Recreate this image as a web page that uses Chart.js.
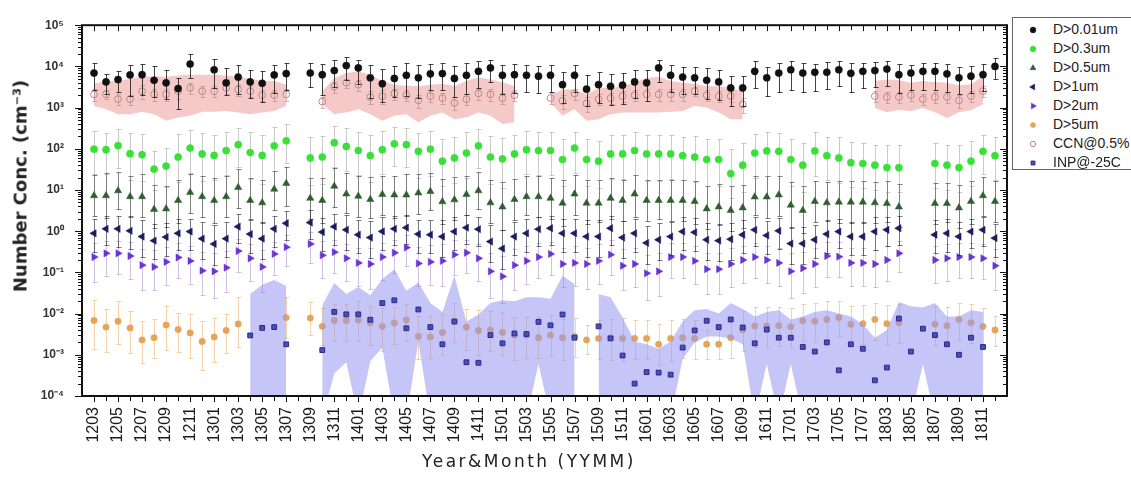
<!DOCTYPE html>
<html>
<head>
<meta charset="utf-8">
<script src="https://cdn.jsdelivr.net/npm/chart.js@4.4.1/dist/chart.umd.min.js"></script>
<style>
  html, body { margin: 0; padding: 0; background: #fff; overflow: hidden; }
  #wrap { position: relative; width: 1131px; height: 477px; }
  #chart { position: absolute; left: 0; top: 0; }
  #ytitle { position: absolute; left: 20px; top: 186px; transform: translate(-50%, -50%) rotate(-90deg);
    white-space: nowrap; font: bold 18px "DejaVu Sans", sans-serif; color: #222; }
  #xtitle { position: absolute; left: 329px; width: 400px; top: 453px; text-align: center;
    white-space: nowrap; font: 17px/17px "DejaVu Sans", sans-serif; letter-spacing: 2.5px; color: #222; }
  #legend { position: absolute; left: 1012px; top: 17px; width: 130px; height: 153px;
    border: 1px solid #666; box-sizing: border-box; background: #fff;
    font: 14px "Liberation Sans", Arial, sans-serif; color: #222; }
  #legend .row { position: absolute; left: 0; width: 130px; height: 18px; }
  #legend .row canvas { position: absolute; left: 12px; top: 1px; }
  #legend .row span { position: absolute; left: 40px; top: 0; line-height: 17px; white-space: nowrap; }
</style>
</head>
<body>
<div id="wrap">
  <canvas id="chart" width="1131" height="477"></canvas>
  <div id="ytitle">Number Conc. (cm⁻³)</div>
  <div id="xtitle">Year&amp;Month (YYMM)</div>
  <div id="legend"></div>
</div>
<script>
// months on the x axis (1708-1801 not in the record)
const categories = [
  "1203","1204","1205","1206","1207","1208","1209","1210","1211","1212",
  "1301","1302","1303","1304","1305","1306","1307","1308","1309","1310","1311","1312",
  "1401","1402","1403","1404","1405","1406","1407","1408","1409","1410","1411","1412",
  "1501","1502","1503","1504","1505","1506","1507","1508","1509","1510","1511","1512",
  "1601","1602","1603","1604","1605","1606","1607","1608","1609","1610","1611","1612",
  "1701","1702","1703","1704","1705","1706","1707",
  "1802","1803","1804","1805","1806","1807","1808","1809","1810","1811","1812"
];

// number concentrations (cm^-3)
const d001 = [
  6900,4200,4800,6200,6300,4600,4000,2900,11400,null,
  8300,4000,5500,4200,3900,6200,6700,null,6900,6300,7900,10500,
  9200,5300,3800,5100,6100,5300,6600,6700,5100,6100,7600,9200,
  6100,6300,6100,5800,6100,3600,6100,2800,3600,3300,3500,4200,
  4000,9200,6100,5500,5300,4600,4200,3000,3000,7600,5300,6900,
  8300,6900,7200,7200,8300,6800,7600,
  7900,8600,6300,6900,7600,7600,6600,5300,5800,6300,10000
];
const d03 = [
  98,95,120,76,72,32,38,63,104,75,
  69,91,126,81,69,118,157,null,60,63,141,114,
  91,68,95,132,126,87,98,50,60,79,118,63,
  57,75,95,91,91,55,104,55,50,75,75,91,
  75,75,75,68,63,55,55,25,40,79,89,87,
  55,40,89,68,60,46,44,
  40,35,35,null,null,44,40,35,50,87,68
];
const d05 = [
  7.3,7.3,9.6,6.9,6.9,3.4,3.5,5.6,8.7,6.9,
  5.6,6.9,11.5,5.6,4.9,10.5,14.5,null,6.3,5.6,12.4,8.0,
  7.1,5.9,7.8,7.6,7.6,8.5,9.2,5.2,5.8,7.8,9.6,4.9,
  3.9,5.9,6.9,6.9,6.3,4.8,8.0,4.8,4.8,6.3,5.6,8.0,
  5.6,5.6,5.6,5.6,5.3,3.5,3.9,3.2,3.7,6.8,6.8,7.6,
  4.3,3.2,5.3,4.9,5.1,5.1,5.1,
  4.9,4.7,3.9,null,null,4.7,4.7,3.7,5.3,7.3,5.3
];
const d1 = [
  0.89,1.14,1.14,1.02,0.74,0.59,0.72,0.89,0.98,0.66,
  0.49,0.66,1.29,0.85,0.66,1.14,1.56,null,1.62,0.95,1.29,1.08,
  0.82,0.70,0.99,1.14,1.22,0.85,0.82,0.74,0.98,1.22,1.12,0.56,
  0.38,0.74,0.89,1.12,1.18,0.89,0.89,0.74,0.74,1.18,0.70,0.89,
  0.52,0.62,0.74,0.98,0.94,0.62,0.59,0.64,0.82,1.08,0.79,1.02,
  0.50,0.50,0.62,0.85,0.98,0.74,0.74,
  0.98,1.08,1.18,null,null,0.82,0.89,0.74,0.98,1.08,0.68
];
const d2 = [
  0.236,0.29,0.29,0.25,0.15,0.136,0.18,0.23,0.19,0.11,
  0.106,0.13,0.33,0.22,0.136,0.28,0.41,null,0.49,0.26,0.31,0.22,
  0.17,0.16,0.236,0.30,0.40,0.165,0.18,0.19,0.27,0.30,0.22,0.106,
  0.08,0.15,0.19,0.236,0.28,0.16,0.17,0.16,0.19,0.27,0.145,0.16,
  0.095,0.106,0.236,0.236,0.19,0.12,0.12,0.16,0.20,0.236,0.20,0.17,
  0.106,0.126,0.16,0.25,0.24,0.17,0.17,
  0.16,0.20,0.29,null,null,0.20,0.22,0.236,0.236,0.22,0.145
];
const d5 = [
  6.8e-3,4.7e-3,6.5e-3,4.5e-3,2.3e-3,2.6e-3,5.3e-3,4.1e-3,3.4e-3,2.1e-3,
  2.7e-3,3.9e-3,5.6e-3,null,null,null,8.0e-3,null,7.8e-3,4.9e-3,6.8e-3,6.8e-3,
  7.0e-3,6.0e-3,4.9e-3,5.9e-3,7.0e-3,2.8e-3,2.7e-3,3.5e-3,6.5e-3,4.7e-3,3.9e-3,4.0e-3,
  3.5e-3,3.0e-3,3.0e-3,2.6e-3,3.0e-3,2.6e-3,2.8e-3,2.3e-3,2.5e-3,2.6e-3,2.5e-3,2.5e-3,
  2.5e-3,1.8e-3,2.5e-3,2.6e-3,2.5e-3,1.8e-3,1.8e-3,2.6e-3,4.0e-3,5.0e-3,5.0e-3,5.1e-3,
  4.8e-3,6.7e-3,6.5e-3,7.2e-3,8.0e-3,5.5e-3,5.7e-3,
  7.2e-3,5.7e-3,6.0e-3,null,null,5.5e-3,5.1e-3,7.2e-3,6.0e-3,4.9e-3,4.0e-3
];
const ccn = [
  2100,2100,1600,1600,2500,2100,2100,2500,3000,2500,
  2500,3000,2750,2500,2000,2000,2100,null,null,1400,3200,4000,
  3600,1800,1900,2200,2000,1500,1900,1700,1300,1600,2200,2100,
  1700,2000,null,null,1700,1450,2200,1260,1600,1700,1900,2000,
  2100,2100,2100,2100,2500,2000,1900,1900,1200,null,null,null,
  null,null,null,null,null,null,null,
  1900,1800,1800,2000,1600,1800,1800,1500,1900,2500,null
];
const inp = [
  null,null,null,null,null,null,null,null,null,null,
  null,null,null,2.95e-3,4.5e-3,4.7e-3,1.8e-3,null,null,1.3e-3,1.1e-2,9.6e-3,
  9.6e-3,7.1e-3,1.8e-2,2.1e-2,4.4e-3,1.26e-2,4.7e-3,1.8e-3,6.4e-3,6.6e-4,6.4e-4,3.0e-3,
  1.9e-3,3.3e-3,3.2e-3,6.3e-3,5.2e-3,9.5e-3,2.6e-3,null,4.9e-3,2.5e-3,9.6e-4,2.0e-4,
  3.8e-4,3.7e-4,3.3e-4,1.5e-3,3.9e-3,6.7e-3,4.7e-3,7.2e-3,4.6e-3,1.9e-3,4.1e-3,2.6e-3,
  2.6e-3,1.55e-3,1.2e-3,2.0e-3,4.2e-4,1.8e-3,1.4e-3,
  2.4e-4,4.9e-4,7.6e-3,1.2e-3,4.3e-3,3.0e-3,1.8e-3,1.0e-3,2.6e-3,1.55e-3,null
];

// shaded ranges (upper / lower edge); 3e-5 = runs below the axis
const ccnMax = [
  3800,4400,4400,5000,5600,5800,5600,6000,6300,6300,
  6300,6000,5600,5000,4400,4400,3600,null,null,2500,5200,6900,
  7600,6300,4400,3600,3400,3300,3600,3800,3300,4400,5400,4800,
  4100,3300,null,null,2000,2750,2750,2100,3000,3000,3300,4100,
  5200,5600,4400,4000,3800,3300,3300,3000,2500,null,null,null,
  null,null,null,null,null,null,null,
  4400,4800,4600,4000,4400,4200,4000,3500,3700,5800,null
];
const ccnMin = [
  1100,910,690,690,790,690,480,575,630,790,
  790,830,760,690,760,830,1100,null,null,1200,690,760,
  910,690,480,630,690,440,630,760,525,575,760,630,
  400,440,null,null,1300,630,910,480,525,690,760,760,
  760,760,790,830,1100,1000,760,525,525,null,null,null,
  null,null,null,null,null,null,null,
  980,770,880,830,980,770,560,770,860,1200,null
];
const inpMax = [
  null,null,null,null,null,null,null,null,null,null,
  null,null,null,3e-2,5e-2,6.5e-2,4.7e-2,null,null,1.6e-2,5.5e-2,3e-2,
  4.4e-2,2.8e-2,6.9e-2,0.12,3.6e-2,5.7e-2,1.8e-2,1.1e-2,8.3e-2,6.4e-3,9.5e-3,1.8e-2,
  2.1e-2,2e-2,2.5e-2,2.5e-2,2.3e-2,8.3e-2,5.2e-2,null,3e-2,2.5e-2,8e-3,2.1e-3,
  1.8e-3,1.4e-3,2.1e-3,6.4e-3,1.2e-2,1.3e-2,1e-2,1.8e-2,1.3e-2,8.5e-3,1.1e-2,1.2e-2,
  7.2e-3,8.5e-3,1.1e-2,1.2e-2,1e-2,8.5e-3,5.5e-3,
  2.6e-3,4e-3,1.9e-2,1.5e-2,1.4e-2,1.8e-2,8.5e-3,8.5e-3,1.2e-2,1.1e-2,null
];
const inpMin = [
  null,null,null,null,null,null,null,null,null,null,
  null,null,null,3e-5,3e-5,3e-5,3e-5,null,null,3e-5,3.5e-4,6.6e-4,
  3e-5,7e-4,1.5e-3,3e-5,3e-5,2.1e-3,3e-5,3e-5,3e-5,3e-5,3e-5,3e-5,
  3e-5,3e-5,3e-5,6e-4,3e-5,3e-5,3e-5,null,3e-5,3e-5,3e-5,3e-5,
  3e-5,3e-5,3e-5,8e-4,2e-3,2.8e-3,2.8e-3,2.5e-3,1.8e-3,3e-5,6e-4,3e-5,
  6e-4,3e-5,3e-5,3e-5,3e-5,3e-5,3e-5,
  3e-5,3e-5,3e-5,3e-5,6e-4,3e-5,3e-5,3e-5,3e-5,3e-5,null
];

// error bar lengths in decades (up / down)
const d001Up = [
  .25,.2,.2,.25,.25,.35,.3,.25,.25,0,
  .25,.35,.3,.3,.3,.25,.25,0,.25,.25,.25,.2,
  .2,.3,.35,.3,.3,.3,.25,.25,.3,.3,.25,.2,
  .25,.25,.25,.25,.25,.3,.25,.35,.3,.3,.3,.3,
  .3,.2,.25,.25,.25,.3,.3,.3,.3,.25,.25,.25,
  .2,.25,.2,.25,.2,.25,.2,
  .2,.2,.25,.2,.2,.2,.25,.25,.25,.25,.2
];
const d001Dn = [
  .4,.3,.3,.5,.5,.4,.4,.5,.35,0,
  .45,.3,.4,.4,.45,.45,.4,0,.35,.5,.4,.35,
  .4,.5,.45,.45,.5,.5,.4,.4,.45,.45,.4,.35,
  .45,.45,.4,.4,.4,.45,.4,.4,.45,.45,.45,.4,
  .45,.35,.4,.4,.4,.45,.45,.45,.45,.4,.45,.45,
  .5,.45,.45,.4,.4,.45,.4,
  .4,.4,.45,.4,.45,.45,.45,.4,.4,.4,.3
];
const d03Up = [
  .45,.4,.4,.5,.5,.45,.45,.55,.45,.5,
  .5,.45,.4,.5,.5,.45,.4,0,.5,.5,.4,.45,
  .45,.5,.45,.4,.4,.45,.45,.55,.5,.5,.4,.5,
  .5,.45,.45,.45,.45,.5,.4,.5,.5,.45,.45,.45,
  .45,.45,.45,.45,.5,.5,.5,.6,.55,.45,.45,.45,
  .5,.55,.45,.45,.5,.5,.5,
  .5,.55,.55,0,0,.5,.5,.55,.5,.4,.45
];
const d03Dn = [
  .6,.6,.55,.65,.65,.5,.5,.6,.6,.65,
  .6,.6,.55,.65,.7,.6,.55,0,.65,.65,.6,.6,
  .6,.65,.6,.55,.55,.65,.65,.6,.6,.6,.55,.65,
  .7,.6,.6,.6,.6,.65,.6,.65,.65,.6,.6,.6,
  .65,.65,.6,.6,.6,.65,.65,.6,.65,.6,.6,.6,
  .65,.65,.6,.6,.6,.6,.6,
  .6,.6,.6,0,0,.6,.6,.6,.6,.55,.6
];
const d05Up = [
  .5,.55,.45,.5,.55,.6,.55,.5,.45,.5,
  .55,.5,.45,.55,.55,.45,.4,0,.5,.55,.45,.5,
  .5,.55,.45,.45,.5,.45,.45,.55,.55,.45,.45,.55,
  .6,.5,.5,.5,.5,.55,.45,.55,.55,.5,.5,.45,
  .5,.5,.5,.5,.5,.55,.55,.6,.55,.5,.5,.45,
  .55,.6,.5,.5,.5,.5,.5,
  .5,.55,.55,0,0,.5,.5,.55,.5,.45,.5
];
const d05Dn = [
  .5,.55,.45,.5,.5,.45,.45,.55,.5,.5,
  .55,.5,.5,.45,.5,.5,.55,0,.5,.55,.5,.45,
  .5,.45,.5,.55,.5,.5,.45,.55,.5,.5,.45,.5,
  .55,.5,.45,.5,.5,.55,.5,.5,.45,.5,.5,.55,
  .5,.45,.5,.5,.55,.5,.45,.5,.5,.45,.5,.5,
  .55,.55,.5,.45,.5,.5,.5,
  .5,.45,.5,0,0,.5,.45,.5,.55,.5,.5
];
const d1Up = [
  .35,.3,.3,.35,.4,.4,.35,.35,.3,.4,
  .45,.4,.3,.35,.4,.3,.3,0,.3,.35,.3,.35,
  .35,.4,.35,.3,.3,.35,.35,.4,.35,.3,.3,.4,
  .45,.35,.35,.3,.3,.35,.35,.4,.4,.3,.4,.35,
  .4,.4,.35,.35,.35,.4,.4,.4,.35,.3,.35,.3,
  .4,.4,.35,.35,.3,.35,.35,
  .35,.3,.3,0,0,.35,.35,.35,.3,.3,.35
];
const d1Dn = [
  .45,.4,.45,.45,.5,.45,.45,.4,.45,.5,
  .5,.45,.4,.45,.5,.45,.4,0,.4,.45,.45,.5,
  .45,.5,.45,.4,.4,.45,.45,.5,.45,.4,.4,.5,
  .5,.45,.45,.4,.4,.45,.45,.5,.5,.4,.5,.45,
  .5,.5,.45,.45,.45,.5,.5,.5,.45,.4,.45,.45,
  .5,.5,.45,.45,.4,.45,.45,
  .45,.4,.4,0,0,.45,.45,.45,.4,.4,.45
];
const d2Up = [
  .35,.3,.3,.35,.4,.4,.35,.35,.35,.45,
  .45,.4,.3,.35,.4,.3,.3,0,.3,.35,.3,.35,
  .35,.4,.35,.3,.3,.4,.4,.4,.35,.3,.35,.45,
  .5,.4,.35,.35,.3,.4,.4,.4,.4,.35,.4,.4,
  .45,.45,.35,.35,.35,.4,.4,.4,.35,.35,.35,.35,
  .45,.4,.4,.35,.35,.35,.35,
  .35,.35,.3,0,0,.35,.35,.35,.35,.35,.4
];
const d2Dn = [
  .6,.55,.5,.55,.6,.55,.55,.5,.55,.6,
  .65,.6,.5,.55,.6,.5,.45,0,.45,.55,.5,.55,
  .55,.6,.55,.5,.45,.55,.55,.6,.5,.5,.55,.65,
  .65,.6,.55,.5,.5,.55,.55,.6,.55,.5,.6,.55,
  .65,.6,.5,.5,.55,.6,.6,.55,.55,.5,.55,.55,
  .65,.6,.55,.5,.5,.55,.55,
  .55,.5,.45,0,0,.55,.55,.5,.5,.5,.6
];
const d5Up = [
  .5,.45,.5,.4,.45,.45,.45,.4,.45,.5,
  .45,.4,.65,0,0,0,.5,0,.4,.45,.4,.4,
  .45,.4,.45,.4,.4,.5,.5,.45,.45,.45,.5,.45,
  .5,.45,.45,.5,.5,.45,.45,.35,.45,.45,.5,.45,
  .45,.5,.45,.45,.45,.35,.35,.45,.45,.45,.45,.45,
  .45,.4,.45,.45,.4,.45,.45,
  .4,.45,.45,0,0,.45,.45,.4,.45,.45,.35
];
const d5Dn = [
  .7,.6,.55,.6,.55,.5,.6,.55,.6,.7,
  .6,.55,.55,0,0,0,.5,0,.4,.45,.5,.5,
  .5,.55,.6,.5,.5,.55,.5,.55,.5,.55,.6,.5,
  .55,.6,.55,.5,.5,.55,.5,.35,.5,.55,.55,.5,
  .5,.5,.55,.5,.5,.35,.35,.5,.5,.5,.5,.5,
  .5,.5,.5,.5,.45,.5,.5,
  .5,.5,.5,0,0,.5,.5,.5,.5,.5,.4
];
const ccnUp = [
  .12,.1,.12,.1,.14,.12,.12,.15,.12,.12,
  .12,.12,.12,.12,.12,.12,.12,0,0,.12,.12,.1,
  .12,.14,.14,.1,.12,.14,.12,.12,.14,.12,.12,.12,
  .12,.12,0,0,.12,.15,.12,.15,.12,.12,.12,.12,
  .12,.12,.12,.12,.1,.12,.12,.12,.15,0,0,0,
  0,0,0,0,0,0,0,
  .12,.12,.12,.12,.12,.12,.12,.14,.12,.12,0
];
const ccnDn = [
  .15,.12,.15,.15,.18,.15,.15,.18,.15,.15,
  .15,.15,.15,.15,.15,.15,.15,0,0,.15,.15,.12,
  .15,.18,.18,.15,.15,.18,.15,.15,.18,.15,.15,.15,
  .15,.15,0,0,.15,.2,.15,.2,.15,.15,.15,.15,
  .15,.15,.15,.15,.12,.15,.15,.15,.2,0,0,0,
  0,0,0,0,0,0,0,
  .15,.15,.15,.15,.15,.15,.15,.18,.15,.15,0
];

const pts = arr => arr.map((v, i) => ({ x: i, y: v }));
const SUP = { "-": "\u207B", "0": "\u2070", "1": "\u00B9", "2": "\u00B2", "3": "\u00B3", "4": "\u2074", "5": "\u2075" };
const sup = n => String(n).split("").map(c => SUP[c]).join("");

const errorBars = {
  id: "errorBars",
  beforeDatasetDraw(chart, args) {
    const ds = chart.data.datasets[args.index];
    if (!ds.errUp) return;
    const { ctx, chartArea: a } = chart;
    const y = chart.scales.y;
    ctx.save();
    ctx.beginPath();
    ctx.rect(a.left, a.top, a.right - a.left, a.bottom - a.top);
    ctx.clip();
    ctx.strokeStyle = ds.errColor;
    ctx.lineWidth = 1;
    ctx.beginPath();
    args.meta.data.forEach((pt, i) => {
      const v = ds.data[i].y;
      if (v == null) return;
      const px = Math.round(pt.x) + 0.5;
      const hi = Math.round(y.getPixelForValue(v * Math.pow(10, ds.errUp[i]))) + 0.5;
      const lo = Math.round(y.getPixelForValue(v / Math.pow(10, ds.errDn[i]))) + 0.5;
      ctx.moveTo(px, hi); ctx.lineTo(px, lo);
      ctx.moveTo(px - 2, hi); ctx.lineTo(px + 3, hi);
      ctx.moveTo(px - 2, lo); ctx.lineTo(px + 3, lo);
    });
    ctx.stroke();
    ctx.restore();
  }
};

const frame = {
  id: "frame",
  afterDatasetsDraw(chart) {
    const { ctx, chartArea: a, scales: { x, y } } = chart;
    ctx.save();
    ctx.strokeStyle = "#111";
    ctx.lineWidth = 1;
    ctx.beginPath();
    categories.forEach((c, i) => {
      const px = Math.round(x.getPixelForValue(i)) + 0.5;
      const len = i % 2 === 0 ? 6 : 5;
      ctx.moveTo(px, a.bottom); ctx.lineTo(px, a.bottom + len);
      ctx.moveTo(px, a.top); ctx.lineTo(px, a.top + len);
    });
    for (let e = -4; e <= 5; e++) {
      for (let k = 1; k <= 9; k++) {
        const v = k * Math.pow(10, e);
        if (v > 1e5) break;
        const py = Math.round(y.getPixelForValue(v)) + 0.5;
        const len = k === 1 ? 7 : 4;
        ctx.moveTo(a.left - len, py); ctx.lineTo(a.left, py);
        ctx.moveTo(a.right, py); ctx.lineTo(a.right - len, py);
      }
    }
    ctx.stroke();
    ctx.lineWidth = 2;
    ctx.strokeRect(a.left, a.top, a.right - a.left, a.bottom - a.top);
    ctx.restore();
  }
};

const series = [
  { label: "D>0.01um", data: d001, up: d001Up, dn: d001Dn, err: "rgba(20,20,20,0.8)",
    style: "circle", r: 3.6, bg: "#111", bd: "#111", order: 1 },
  { label: "D>0.3um", data: d03, up: d03Up, dn: d03Dn, err: "rgba(140,140,140,0.45)",
    style: "circle", r: 3.6, bg: "#38e038", bd: "#38e038", order: 2 },
  { label: "D>0.5um", data: d05, up: d05Up, dn: d05Dn, err: "rgba(40,40,40,0.6)",
    style: "triangle", r: 4.2, bg: "#2f5e2f", bd: "#2f5e2f", order: 3 },
  { label: "D>1um", data: d1, up: d1Up, dn: d1Dn, err: "rgba(30,30,50,0.6)",
    style: "triangle", rot: -90, r: 4.2, bg: "#1c1c60", bd: "#1c1c60", order: 4 },
  { label: "D>2um", data: d2, up: d2Up, dn: d2Dn, err: "rgba(160,120,200,0.45)",
    style: "triangle", rot: 90, r: 4.2, bg: "#6a34d0", bd: "#6a34d0", order: 5 },
  { label: "D>5um", data: d5, up: d5Up, dn: d5Dn, err: "rgba(235,170,90,0.5)",
    style: "circle", r: 3.2, bg: "#e6a556", bd: "#e6a556", order: 9 },
  { label: "CCN@0.5%", data: ccn, up: ccnUp, dn: ccnDn, err: "rgba(170,120,120,0.5)",
    style: "circle", r: 3.4, bg: "rgba(255,255,255,0)", bd: "#c08585", bw: 1, order: 7 },
  { label: "INP@-25C", data: inp,
    style: "rect", r: 3.4, bg: "#4d4dbb", bd: "#2a2a88", bw: 1, order: 6 }
];

const datasets = series.map(s => ({
  label: s.label,
  data: pts(s.data),
  showLine: false,
  pointStyle: s.style,
  pointRotation: s.rot || 0,
  pointRadius: s.r,
  pointBackgroundColor: s.bg,
  pointBorderColor: s.bd,
  pointBorderWidth: s.bw || 0.5,
  errUp: s.up, errDn: s.dn, errColor: s.err,
  order: s.order
}));
const band = (data, fill, color, order) => ({
  label: "", data: pts(data), showLine: true, borderWidth: 0, pointRadius: 0,
  borderColor: "rgba(0,0,0,0)", backgroundColor: color, fill, order, spanGaps: false
});
datasets.push(band(inpMax, "+1", "rgba(150,150,240,0.55)", 8));
datasets.push(band(inpMin, false, "rgba(0,0,0,0)", 8));
datasets.push(band(ccnMax, "+1", "rgba(240,165,165,0.6)", 10));
datasets.push(band(ccnMin, false, "rgba(0,0,0,0)", 10));

new Chart(document.getElementById("chart"), {
  type: "line",
  data: { datasets },
  options: {
    responsive: false,
    animation: false,
    events: [],
    layout: { padding: { top: 18, right: 124, bottom: 0, left: 0 } },
    plugins: { legend: { display: false }, tooltip: { enabled: false } },
    scales: {
      x: {
        type: "linear",
        min: -1,
        max: categories.length,
        afterBuildTicks: s => { s.ticks = categories.map((c, i) => ({ value: i })); },
        afterFit: s => { s.height = 81; },
        grid: { display: false, drawTicks: false },
        border: { display: false },
        ticks: {
          autoSkip: false, minRotation: 90, maxRotation: 90, padding: 11,
          color: "#1a1a1a", font: { family: "'Liberation Sans', Arial, sans-serif", size: 16 },
          callback: v => (v % 2 === 0 ? categories[v] : "")
        }
      },
      y: {
        type: "logarithmic",
        min: 1e-4,
        max: 1e5,
        afterBuildTicks: s => {
          s.ticks = [-4, -3, -2, -1, 0, 1, 2, 3, 4, 5].map(e => ({ value: Math.pow(10, e) }));
        },
        afterFit: s => { s.width = 82; },
        grid: { display: false, drawTicks: false },
        border: { display: false },
        ticks: {
          padding: 18, color: "#333",
          font: { family: "'Liberation Sans', Arial, sans-serif", size: 12, weight: "bold" },
          callback: v => "10" + sup(Math.round(Math.log10(v)))
        }
      }
    }
  },
  plugins: [errorBars, frame]
});

// legend box
const legend = document.getElementById("legend");
series.forEach((s, k) => {
  const row = document.createElement("div");
  row.className = "row";
  row.style.top = (3 + 19 * k) + "px";
  const c = document.createElement("canvas");
  c.width = 16; c.height = 16;
  const ctx = c.getContext("2d");
  ctx.fillStyle = s.bg; ctx.strokeStyle = s.bd; ctx.lineWidth = s.bw || 0.5;
  Chart.helpers.drawPoint(ctx, { pointStyle: s.style, rotation: s.rot || 0, radius: s.r * 0.8, borderWidth: s.bw || 0.5 }, 8, 8);
  const t = document.createElement("span");
  t.textContent = s.label;
  row.appendChild(c); row.appendChild(t);
  legend.appendChild(row);
});
</script>
</body>
</html>
